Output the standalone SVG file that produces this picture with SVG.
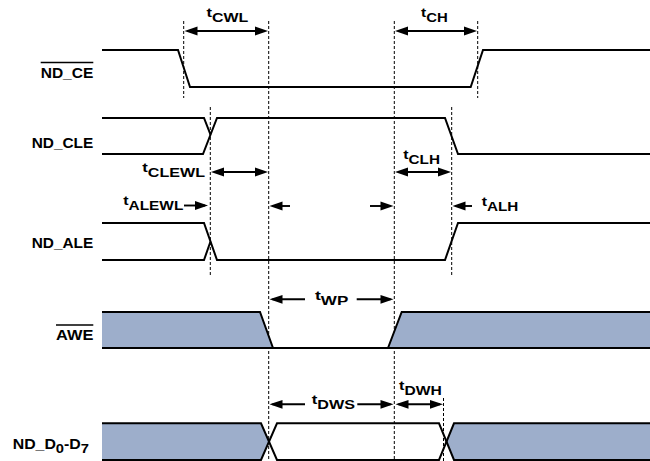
<svg xmlns="http://www.w3.org/2000/svg" width="650" height="461" viewBox="0 0 650 461">
<style>
.sig{fill:none;stroke:#000;stroke-width:2;stroke-linejoin:miter}
.fill{fill:#9daecb;stroke:none}
.dash{fill:none;stroke:#000;stroke-width:1;stroke-dasharray:3,2}
.arr{fill:none;stroke:#000;stroke-width:1.9}
.dbl{marker-start:url(#ah);marker-end:url(#ah)}
.one{marker-end:url(#ah)}
.lbl{font-family:"Liberation Sans",Arial,Helvetica,sans-serif;font-weight:bold;font-size:14px;fill:#000}
.tl{font-family:"Liberation Sans",Arial,Helvetica,sans-serif;font-weight:bold;font-size:13.5px;fill:#000}
.sub{font-size:13px}
.ov{stroke:#000;stroke-width:1.3}
</style>
<defs>
<marker id="ah" markerUnits="userSpaceOnUse" viewBox="-11 -5 14 10" refX="0" refY="0" markerWidth="14" markerHeight="10" orient="auto-start-reverse" overflow="visible">
<path d="M-10,-4.4 L3,0 L-10,4.4 Z" fill="#000"/>
</marker>
</defs>

<g id="guides">
<line class="dash" x1="183.7" y1="21" x2="183.7" y2="98"/>
<line class="dash" x1="268.7" y1="21" x2="268.7" y2="461"/>
<line class="dash" x1="394.3" y1="21" x2="394.3" y2="461"/>
<line class="dash" x1="477.7" y1="21" x2="477.7" y2="98"/>
<line class="dash" x1="210.3" y1="107" x2="210.3" y2="275"/>
<line class="dash" x1="451.7" y1="107" x2="451.7" y2="276"/>
<line class="dash" x1="443.5" y1="398" x2="443.5" y2="461"/>
</g>

<g id="nd_ce">
<text class="lbl" x="40.7" y="78.3" textLength="52.6" lengthAdjust="spacingAndGlyphs">ND_CE</text>
<line class="ov" x1="40.7" y1="62.5" x2="93.3" y2="62.5"/>
<path class="sig" d="M102,50 H178 L190,87 H470.7 L483,50 H650"/>
</g>

<g id="nd_cle">
<text class="lbl" x="31.7" y="148.3" textLength="61.6" lengthAdjust="spacingAndGlyphs">ND_CLE</text>
<path class="sig" d="M102,118 H204 L210.5,134.7"/>
<path class="sig" d="M102,154 H203 L217,118 H445 L458,154 H650"/>
</g>

<g id="nd_ale">
<text class="lbl" x="31.7" y="248.3" textLength="61.6" lengthAdjust="spacingAndGlyphs">ND_ALE</text>
<path class="sig" d="M102,223 H204 L217,260 H445 L458,223 H650"/>
<path class="sig" d="M102,260 H204 L210.5,241.5"/>
</g>

<g id="awe">
<text class="lbl" x="56" y="339.5" textLength="37.3" lengthAdjust="spacingAndGlyphs">AWE</text>
<line class="ov" x1="56" y1="325" x2="93.3" y2="325"/>
<path class="fill" d="M102,312 H260 L273,348 H102 Z"/>
<path class="fill" d="M388,348 L401.7,312 H650 V348 Z"/>
<path class="sig" d="M102,312 H260 L273,348"/>
<path class="sig" d="M102,348 H650"/>
<path class="sig" d="M388,348 L401.7,312 H650"/>
</g>

<g id="nd_d">
<text class="lbl" x="12.7" y="448.7" textLength="76.3" lengthAdjust="spacingAndGlyphs">ND_D<tspan class="sub" dy="4">0</tspan><tspan dy="-4">-D</tspan><tspan class="sub" dy="4">7</tspan></text>
<path class="fill" d="M102,423.3 H261 L269,441.65 L261,460 H102 Z"/>
<path class="fill" d="M650,423.3 H454 L446.5,441.65 L454,460 H650 Z"/>
<path class="sig" d="M102,423.3 H261 L277,460 H439 L454,423.3 H650"/>
<path class="sig" d="M102,460 H261 L277,423.3 H439 L454,460 H650"/>
</g>

<g id="connectors">
<line class="arr dbl" x1="187.5" y1="31" x2="265" y2="31"/>
<line class="arr dbl" x1="398" y1="31" x2="474" y2="31"/>
<line class="arr dbl" x1="214" y1="172" x2="265" y2="172"/>
<line class="arr dbl" x1="398" y1="172" x2="448" y2="172"/>
<line class="arr one" x1="184" y1="205.5" x2="205" y2="205.5"/>
<line class="arr one" x1="290" y1="206" x2="272.5" y2="206"/>
<line class="arr one" x1="370" y1="206" x2="390.5" y2="206"/>
<line class="arr one" x1="472" y1="206" x2="455.5" y2="206"/>
<line class="arr one" x1="305" y1="299.3" x2="272.5" y2="299.3"/>
<line class="arr one" x1="356.7" y1="299.3" x2="390.5" y2="299.3"/>
<line class="arr one" x1="305" y1="404.3" x2="272.5" y2="404.3"/>
<line class="arr one" x1="357.3" y1="404.3" x2="390.5" y2="404.3"/>
<line class="arr dbl" x1="398.5" y1="404.3" x2="440" y2="404.3"/>
</g>

<g id="timing-labels">
<text class="tl" x="206.5" y="17" textLength="41.8" lengthAdjust="spacingAndGlyphs">t<tspan class="sub" dy="5">CWL</tspan></text>
<text class="tl" x="421" y="17" textLength="26.7" lengthAdjust="spacingAndGlyphs">t<tspan class="sub" dy="5">CH</tspan></text>
<text class="tl" x="142.3" y="172" textLength="62.7" lengthAdjust="spacingAndGlyphs">t<tspan class="sub" dy="5">CLEWL</tspan></text>
<text class="tl" x="403.3" y="158.5" textLength="36.7" lengthAdjust="spacingAndGlyphs">t<tspan class="sub" dy="5">CLH</tspan></text>
<text class="tl" x="123.3" y="205" textLength="60" lengthAdjust="spacingAndGlyphs">t<tspan class="sub" dy="5">ALEWL</tspan></text>
<text class="tl" x="481.7" y="206" textLength="36.6" lengthAdjust="spacingAndGlyphs">t<tspan class="sub" dy="5">ALH</tspan></text>
<text class="tl" x="315" y="300.3" textLength="33.3" lengthAdjust="spacingAndGlyphs">t<tspan class="sub" dy="5">WP</tspan></text>
<text class="tl" x="311.7" y="404.3" textLength="43.3" lengthAdjust="spacingAndGlyphs">t<tspan class="sub" dy="5">DWS</tspan></text>
<text class="tl" x="399" y="390" textLength="42.7" lengthAdjust="spacingAndGlyphs">t<tspan class="sub" dy="5">DWH</tspan></text>
</g>
</svg>
